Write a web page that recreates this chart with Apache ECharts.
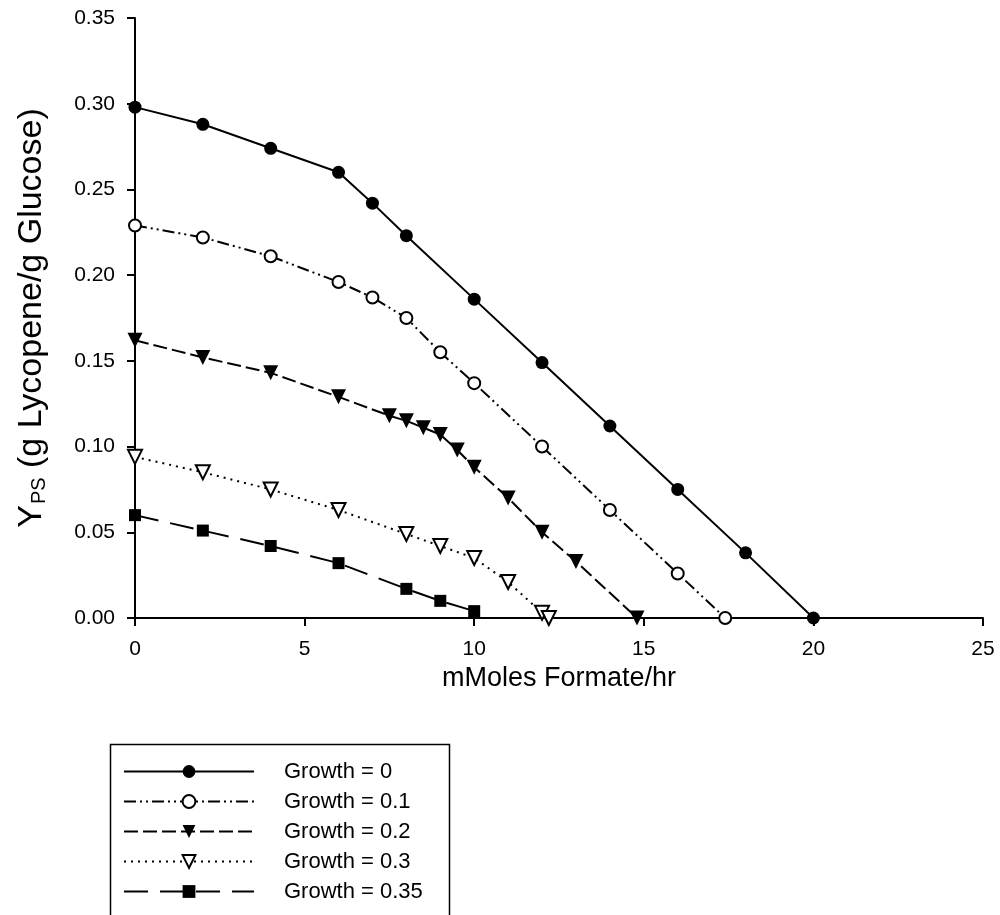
<!DOCTYPE html>
<html>
<head>
<meta charset="utf-8">
<script src="https://cdn.jsdelivr.net/npm/echarts@6/dist/echarts.min.js"></script>
<style>
html,body{margin:0;padding:0;background:#fff;}
#chart{width:1000px;height:915px;}
</style>
</head>
<body>
<div id="chart"></div>
<script>
// ---- data ----
var seriesNames = ['Growth = 0', 'Growth = 0.1', 'Growth = 0.2', 'Growth = 0.3', 'Growth = 0.35'];

var x0 = [0, 2, 4, 6, 7, 8, 10, 12, 14, 16, 18, 20];
var y0 = [0.298, 0.288, 0.274, 0.260, 0.242, 0.223, 0.186, 0.149, 0.112, 0.075, 0.038, 0.0];

var x1 = [0, 2, 4, 6, 7, 8, 9, 10, 12, 14, 16, 17.4];
var y1 = [0.229, 0.222, 0.211, 0.196, 0.187, 0.175, 0.155, 0.137, 0.100, 0.063, 0.026, 0.0];

var x2 = [0, 2, 4, 6, 7.5, 8, 8.5, 9, 9.5, 10, 11, 12, 13, 14.8];
var y2 = [0.162, 0.152, 0.143, 0.129, 0.118, 0.115, 0.111, 0.107, 0.098, 0.088, 0.070, 0.050, 0.033, 0.0];

var x3 = [0, 2, 4, 6, 8, 9, 10, 11, 12, 12.2];
var y3 = [0.094, 0.085, 0.075, 0.063, 0.049, 0.042, 0.035, 0.021, 0.003, 0.0];

var x4 = [0, 2, 4, 6, 8, 9, 10];
var y4 = [0.060, 0.051, 0.042, 0.032, 0.017, 0.010, 0.004];

var xTicks = [0, 5, 10, 15, 20, 25];
var yTicks = [0.00, 0.05, 0.10, 0.15, 0.20, 0.25, 0.30, 0.35];

function zip(xs, ys) { return xs.map(function (x, i) { return [x, ys[i]]; }); }

var FONT = 'Liberation Sans, Arial, sans-serif';
var chart = echarts.init(document.getElementById('chart'));

function mk(name, data, symbol, rotate, size, lineType, empty) {
  return {
    name: name,
    type: 'line',
    data: data,
    symbol: symbol,
    symbolRotate: rotate,
    symbolSize: size,
    showAllSymbol: true,
    animation: false,
    lineStyle: { color: '#000', width: 2, type: lineType },
    itemStyle: empty ? { color: '#000', borderColor: '#000', borderWidth: 2 } : { color: '#000', borderColor: '#000', borderWidth: 0 },
    emphasis: { disabled: true },
    z: 3
  };
}

var option = {
  backgroundColor: '#fff',
  animation: false,
  grid: { left: 135, right: 17, top: 18, bottom: 297, containLabel: false },
  xAxis: {
    type: 'value', min: xTicks[0], max: xTicks[xTicks.length - 1], interval: 5,
    name: 'mMoles Formate/hr', nameLocation: 'middle', nameGap: 44,
    nameTextStyle: { fontFamily: FONT, fontSize: 27, color: '#000' },
    axisLine: { show: true, onZero: false, lineStyle: { color: '#000', width: 2 } },
    axisTick: { show: true, inside: false, length: 8, lineStyle: { color: '#000', width: 2 } },
    axisLabel: { fontFamily: FONT, fontSize: 21, color: '#000', margin: 21 },
    splitLine: { show: false }
  },
  yAxis: {
    type: 'value', min: yTicks[0], max: yTicks[yTicks.length - 1], interval: 0.05,
    name: '{a|Y}{s|PS}{a| (g Lycopene/g Glucose)}', nameLocation: 'middle', nameGap: 86, nameRotate: 90,
    nameTextStyle: {
      rich: {
        a: { fontFamily: FONT, fontSize: 34, color: '#000' },
        s: { fontFamily: FONT, fontSize: 20, color: '#000', padding: [15, 0, 0, 1] }
      }
    },
    axisLine: { show: true, onZero: false, lineStyle: { color: '#000', width: 2 } },
    axisTick: { show: true, inside: false, length: 8, lineStyle: { color: '#000', width: 2 } },
    axisLabel: { fontFamily: FONT, fontSize: 21, color: '#000', margin: 20, formatter: function (v) { return v.toFixed(2); } },
    splitLine: { show: false }
  },
  legend: {
    orient: 'vertical', left: 123, top: 760, padding: 0,
    itemWidth: 130, itemHeight: 16, itemGap: 7,
    textStyle: { fontFamily: FONT, fontSize: 22, lineHeight: 23, color: '#000', padding: [0, 0, 0, 25] },
    data: seriesNames,
    selectedMode: false
  },
  graphic: [{
    type: 'rect', left: 108, top: 742, shape: { width: 339, height: 200 },
    style: { fill: 'none', stroke: '#000', lineWidth: 1.5 }, z: 0
  }],
  series: [
    mk(seriesNames[0], zip(x0, y0), 'circle', 0, 13, 'solid', false),
    mk(seriesNames[1], zip(x1, y1), 'emptyCircle', 0, 12, [12, 4, 2, 4, 2, 4], true),
    mk(seriesNames[2], zip(x2, y2), 'triangle', 180, 15, [14, 5], false),
    mk(seriesNames[3], zip(x3, y3), 'emptyTriangle', 180, 14, [2, 5], true),
    mk(seriesNames[4], zip(x4, y4), 'rect', 0, 12, [24, 12], false)
  ]
};
chart.setOption(option);
</script>
</body>
</html>
